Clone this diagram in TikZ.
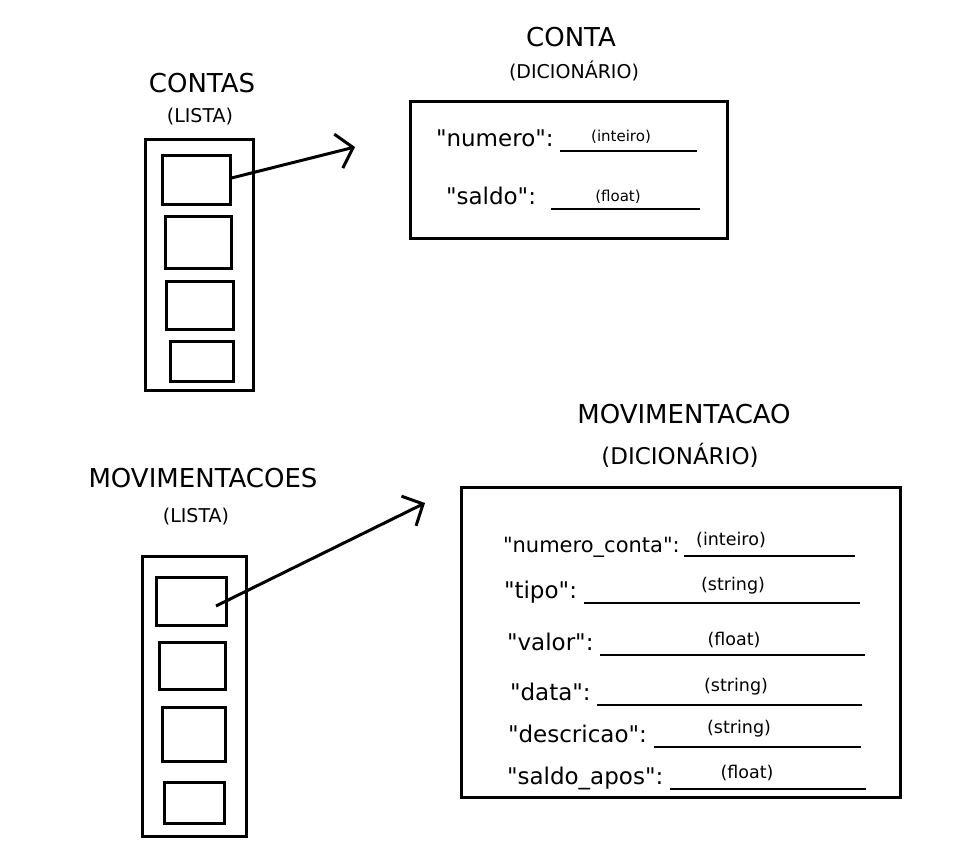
\documentclass[tikz,border=0pt]{standalone}
\usepackage{fontspec}
\setmainfont{DejaVu Sans}
\newfontfamily\dv{DejaVu Sans}
\usetikzlibrary{arrows.meta,calc}
\tikzset{
  frame/.style={draw=black, line width=3pt, inner sep=0pt},
  txt/.style={inner sep=0pt, outer sep=0pt},
  title/.style={txt, font=\dv\fontsize{26}{31}\selectfont},
  sub/.style={txt, font=\dv\fontsize{19}{23}\selectfont},
  field/.style={txt, anchor=base west, font=\dv\fontsize{23}{27}\selectfont},
  tsmall/.style={txt, font=\dv\fontsize{15}{18}\selectfont},
  bsmall/.style={txt, font=\dv\fontsize{17.5}{21}\selectfont},
  blank/.style={line width=1.5pt},
  ptr/.style={line width=3pt},
}
\begin{document}
\begin{tikzpicture}[x=1pt,y=-1pt]
\useasboundingbox (0,0) rectangle (959,858);
% ---- CONTAS list
\node[title] (tcontas) at (202,83) {CONTAS};
\node[sub] (scontas) at (200,117) {(LISTA)};
\node[frame, minimum width=108pt, minimum height=251pt] (contas) at (199,265.5) {};
\node[frame, minimum width=68pt, minimum height=49pt] (c1) at (196,180.5) {};
\node[frame, minimum width=66pt, minimum height=52pt] (c2) at (198,243) {};
\node[frame, minimum width=67pt, minimum height=48pt] (c3) at (199.5,306) {};
\node[frame, minimum width=63pt, minimum height=40pt] (c4) at (201.5,362) {};
\coordinate (ctip) at (355,147);
\draw[ptr, -{Straight Barb[length=15pt,width=35pt,line width=3pt]}] (c1.east) ++(0,-2.5) -- (ctip);
% ---- CONTA dict
\node[title] (tconta) at (571,37) {CONTA};
\node[sub] (sconta) at (574,71) {(DICIONÁRIO)};
\node[frame, minimum width=317pt, minimum height=137pt] (conta) at (568.5,170.5) {};
\node[field] (fnum) at (436,147) {"numero":};
\node[tsmall] (snum) at (621,137) {(inteiro)};
\coordinate (unA) at (560,151); \coordinate (unB) at (697,151);
\draw[blank] (unA) -- (unB);
\node[field] (fsal) at (446,205) {"saldo":};
\node[tsmall] (ssal) at (618,197) {(float)};
\coordinate (usA) at (551,209); \coordinate (usB) at (700,209);
\draw[blank] (usA) -- (usB);
% ---- MOVIMENTACOES list
\node[title] (tmovs) at (203,478) {MOVIMENTACOES};
\node[sub] (smovs) at (196,517) {(LISTA)};
\node[frame, minimum width=104pt, minimum height=280pt] (movs) at (194,696) {};
\node[frame, minimum width=70pt, minimum height=48pt] (m1) at (191,601) {};
\node[frame, minimum width=66pt, minimum height=47pt] (m2) at (192,665.5) {};
\node[frame, minimum width=63pt, minimum height=54pt] (m3) at (193.5,734) {};
\node[frame, minimum width=60pt, minimum height=41pt] (m4) at (194,802.5) {};
\coordinate (mtip) at (425,503);
\draw[ptr, -{Straight Barb[length=16pt,width=33pt,line width=3pt]}] ($(m1.center)+(25,5)$) -- (mtip);
% ---- MOVIMENTACAO dict
\node[title] (tmov) at (684,414) {MOVIMENTACAO};
\node[sub, font=\dv\fontsize{23}{27}\selectfont] (smov) at (680,455) {(DICIONÁRIO)};
\node[frame, minimum width=439pt, minimum height=309pt] (mov) at (680.5,642.5) {};
\node[field, font=\dv\fontsize{21}{25}\selectfont] (f1) at (503,552) {"numero\_conta":};
\node[bsmall] (s1) at (731,540) {(inteiro)};
\coordinate (u1a) at (684,556); \coordinate (u1b) at (855,556);
\draw[blank] (u1a) -- (u1b);
\node[field] (f2) at (504,598) {"tipo":};
\node[bsmall] (s2) at (733,586) {(string)};
\coordinate (u2a) at (584,603); \coordinate (u2b) at (860,603);
\draw[blank] (u2a) -- (u2b);
\node[field] (f3) at (507,650) {"valor":};
\node[bsmall] (s3) at (734,640) {(float)};
\coordinate (u3a) at (600,655); \coordinate (u3b) at (865,655);
\draw[blank] (u3a) -- (u3b);
\node[field] (f4) at (510,700) {"data":};
\node[bsmall] (s4) at (736,687) {(string)};
\coordinate (u4a) at (597,705); \coordinate (u4b) at (862,705);
\draw[blank] (u4a) -- (u4b);
\node[field] (f5) at (508,742) {"descricao":};
\node[bsmall] (s5) at (739,729) {(string)};
\coordinate (u5a) at (654,747); \coordinate (u5b) at (861,747);
\draw[blank] (u5a) -- (u5b);
\node[field] (f6) at (507,784) {"saldo\_apos":};
\node[bsmall] (s6) at (747,773) {(float)};
\coordinate (u6a) at (670,789); \coordinate (u6b) at (866,789);
\draw[blank] (u6a) -- (u6b);
\end{tikzpicture}
\end{document}
